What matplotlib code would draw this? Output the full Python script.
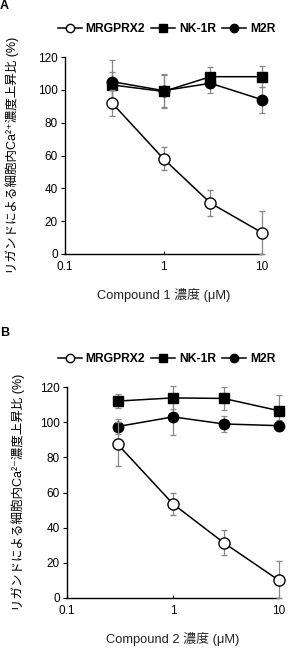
import matplotlib
matplotlib.use("Agg")
import matplotlib.pyplot as plt
import numpy as np

plt.rcParams['font.family'] = ['Liberation Sans', 'Noto Sans CJK JP', 'DejaVu Sans']

conc = [0.3, 1, 3, 10]
series_names = ['MRGPRX2', 'NK-1R', 'M2R']

# Panel A (Compound 1)
a_mrg = [92, 58, 31, 13]
a_mrg_err = [8, 7, 8, 13]
a_nk = [103, 99, 108, 108]
a_nk_err = [8, 10, 6, 6.5]
a_m2 = [105, 99.5, 104, 94]
a_m2_err = [13, 10, 6, 8]

# Panel B (Compound 2)
b_mrg = [87.5, 53.5, 31.5, 10]
b_mrg_err = [12.5, 6.5, 7, 11]
b_nk = [112, 113.8, 113.5, 106.5]
b_nk_err = [4, 6.5, 6.5, 9]
b_m2 = [97.5, 103, 99, 98]
b_m2_err = [4.5, 10.5, 4.5, 3]

yticks = [0, 20, 40, 60, 80, 100, 120]
xticks = [0.1, 1, 10]
xticklabels = ['0.1', '1', '10']

W, H = 292, 658
fig = plt.figure(figsize=(W / 100, H / 100), dpi=100)


def draw_panel(rect, mrg, mrg_err, nk, nk_err, m2, m2_err, xlabel, ylabel, legend_y, ylab_x):
    ax = fig.add_axes(rect)
    ax.set_xscale('log')
    ekw = dict(ecolor='#888888', elinewidth=0.9, capsize=2.5, capthick=0.9)

    def err(v, e):
        lo = [min(ei, vi) for vi, ei in zip(v, e)]
        return [lo, list(e)]

    ax.errorbar(conc, nk, yerr=err(nk, nk_err), color='black', marker='s', ms=7.5,
                mfc='black', mec='black', lw=1.1, clip_on=False, zorder=3, **ekw)
    ax.errorbar(conc, m2, yerr=err(m2, m2_err), color='black', marker='o', ms=7.5,
                mfc='black', mec='black', lw=1.1, clip_on=False, zorder=3, **ekw)
    ax.errorbar(conc, mrg, yerr=err(mrg, mrg_err), color='black', marker='o', ms=8,
                mfc='white', mec='black', mew=1.0, lw=1.1, clip_on=False, zorder=4, **ekw)
    ax.set_xlim(0.1, 10)
    ax.set_ylim(0, 120)
    ax.set_yticks(yticks)
    ax.set_xticks(xticks)
    ax.set_xticklabels(xticklabels)
    ax.xaxis.set_minor_locator(matplotlib.ticker.NullLocator())
    ax.tick_params(axis='x', direction='in', length=2.5, width=0.8, labelsize=8.5, pad=5)
    ax.tick_params(axis='y', direction='out', length=3, width=0.8, labelsize=8.5, pad=2)
    for s in ['top', 'right']:
        ax.spines[s].set_visible(False)
    for s in ['left', 'bottom']:
        ax.spines[s].set_linewidth(1.0)
    ax.set_xlabel(xlabel, fontsize=9.3, labelpad=11, color='#222222')
    ax.set_ylabel(ylabel, fontsize=9.0)
    ax.yaxis.set_label_coords(ylab_x, 0.5)
    handles = [
        plt.Line2D([], [], color='black', marker='o', ms=6, mfc='white', mec='black', lw=1.1),
        plt.Line2D([], [], color='black', marker='s', ms=6, mfc='black', lw=1.1),
        plt.Line2D([], [], color='black', marker='o', ms=6, mfc='black', lw=1.1),
    ]
    fig.legend(handles, series_names, loc='center', bbox_to_anchor=(0.57, legend_y),
               ncol=3, frameon=False, handlelength=2.0,
               handletextpad=0.3, columnspacing=0.5, prop={'weight': 'bold', 'size': 8.7})
    return ax


draw_panel([65 / W, 1 - 254 / H, (262 - 65) / W, (254 - 57) / H],
           a_mrg, a_mrg_err, a_nk, a_nk_err, a_m2, a_m2_err,
           'Compound 1 濃度 (μM)', 'リガンドによる細胞内Ca²⁺濃度上昇比 (%)', 1 - 29 / H,
           (19 - 65) / (262 - 65))
draw_panel([67 / W, 1 - 598 / H, (279 - 67) / W, (598 - 387) / H],
           b_mrg, b_mrg_err, b_nk, b_nk_err, b_m2, b_m2_err,
           'Compound 2 濃度 (μM)', 'リガンドによる細胞内Ca²⁻濃度上昇比 (%)', 1 - 359 / H,
           (25 - 67) / (279 - 67))

fig.text(0.0, 1.0, 'A', fontsize=9, fontweight='bold', va='top', ha='left')
fig.text(0.0, 1 - 333 / H, 'B', fontsize=9, fontweight='bold', va='center', ha='left')

fig.savefig('out.png', dpi=100)
